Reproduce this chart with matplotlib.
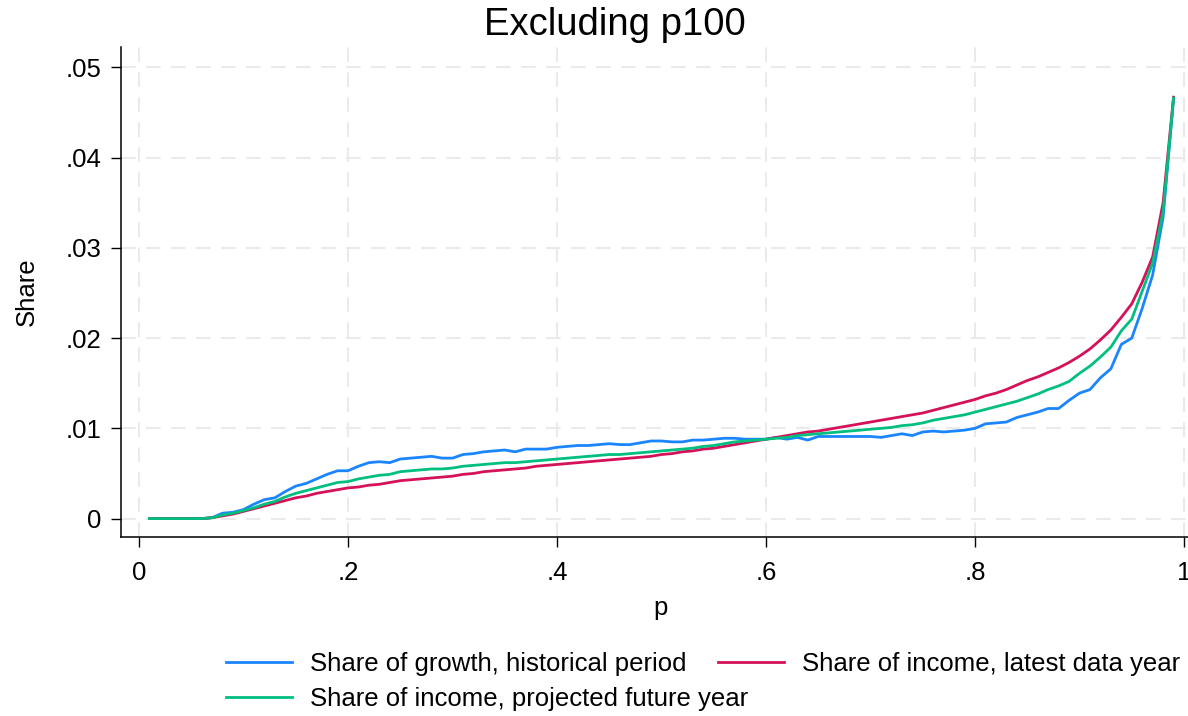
"""
Share of growth vs. share of income by percentile, top percentile dropped.
Writes out.png.
"""

import numpy as np
import matplotlib
matplotlib.use("Agg")
import matplotlib.pyplot as plt


# percentiles p1..p99 (p100 excluded)
pctile = np.arange(1, 100) / 100

share_growth_hist = [
    0, 0, 0, 0, 0, 0, 0.0001, 0.0006, 0.0007, 0.0010,
    0.0016, 0.0021, 0.0023, 0.0030, 0.0036, 0.0039, 0.0044, 0.0049, 0.0053, 0.0053,
    0.0058, 0.0062, 0.0063, 0.0062, 0.0066, 0.0067, 0.0068, 0.0069, 0.0067, 0.0067,
    0.0071, 0.0072, 0.0074, 0.0075, 0.0076, 0.0074, 0.0077, 0.0077, 0.0077, 0.0079,
    0.0080, 0.0081, 0.0081, 0.0082, 0.0083, 0.0082, 0.0082, 0.0084, 0.0086, 0.0086,
    0.0085, 0.0085, 0.0087, 0.0087, 0.0088, 0.0089, 0.0089, 0.0088, 0.0088, 0.0088,
    0.0090, 0.0088, 0.0090, 0.0087, 0.0091, 0.0091, 0.0091, 0.0091, 0.0091, 0.0091,
    0.0090, 0.0092, 0.0094, 0.0092, 0.0096, 0.0097, 0.0096, 0.0097, 0.0098, 0.0100,
    0.0105, 0.0106, 0.0107, 0.0112, 0.0115, 0.0118, 0.0122, 0.0122, 0.0131, 0.0139,
    0.0143, 0.0156, 0.0166, 0.0193, 0.0200, 0.0233, 0.0270, 0.0334, 0.0465,
]

share_income_latest = [
    0, 0, 0, 0, 0, 0, 0.0001, 0.0003, 0.0005, 0.0008,
    0.0011, 0.0014, 0.0017, 0.0020, 0.0023, 0.0025, 0.0028, 0.0030, 0.0032, 0.0034,
    0.0035, 0.0037, 0.0038, 0.0040, 0.0042, 0.0043, 0.0044, 0.0045, 0.0046, 0.0047,
    0.0049, 0.0050, 0.0052, 0.0053, 0.0054, 0.0055, 0.0056, 0.0058, 0.0059, 0.0060,
    0.0061, 0.0062, 0.0063, 0.0064, 0.0065, 0.0066, 0.0067, 0.0068, 0.0069, 0.0071,
    0.0072, 0.0074, 0.0075, 0.0077, 0.0078, 0.0080, 0.0082, 0.0084, 0.0086, 0.0088,
    0.0090, 0.0092, 0.0094, 0.0096, 0.0097, 0.0099, 0.0101, 0.0103, 0.0105, 0.0107,
    0.0109, 0.0111, 0.0113, 0.0115, 0.0117, 0.0120, 0.0123, 0.0126, 0.0129, 0.0132,
    0.0136, 0.0139, 0.0143, 0.0148, 0.0153, 0.0157, 0.0162, 0.0167, 0.0173, 0.0180,
    0.0188, 0.0198, 0.0209, 0.0223, 0.0238, 0.0262, 0.0290, 0.0350, 0.0467,
]

share_income_future = [
    0, 0, 0, 0, 0, 0, 0.0001, 0.0004, 0.0006, 0.0009,
    0.0012, 0.0016, 0.0019, 0.0024, 0.0028, 0.0031, 0.0034, 0.0037, 0.0040, 0.0041,
    0.0044, 0.0046, 0.0048, 0.0049, 0.0052, 0.0053, 0.0054, 0.0055, 0.0055, 0.0056,
    0.0058, 0.0059, 0.0060, 0.0061, 0.0062, 0.0062, 0.0063, 0.0064, 0.0065, 0.0066,
    0.0067, 0.0068, 0.0069, 0.0070, 0.0071, 0.0071, 0.0072, 0.0073, 0.0074, 0.0075,
    0.0076, 0.0077, 0.0078, 0.0080, 0.0081, 0.0083, 0.0085, 0.0086, 0.0087, 0.0088,
    0.0089, 0.0090, 0.0092, 0.0093, 0.0094, 0.0095, 0.0096, 0.0097, 0.0098, 0.0099,
    0.0100, 0.0101, 0.0103, 0.0104, 0.0106, 0.0109, 0.0111, 0.0113, 0.0115, 0.0118,
    0.0121, 0.0124, 0.0127, 0.0130, 0.0134, 0.0138, 0.0143, 0.0147, 0.0152, 0.0161,
    0.0169, 0.0179, 0.0190, 0.0208, 0.0221, 0.0252, 0.0283, 0.0340, 0.0466,
]

x_ticks = [0, 0.2, 0.4, 0.6, 0.8, 1.0]
x_tick_labels = ["0", ".2", ".4", ".6", ".8", "1"]
y_ticks = [0, 0.01, 0.02, 0.03, 0.04, 0.05]
y_tick_labels = ["0", ".01", ".02", ".03", ".04", ".05"]

BLUE = "#1a85ff"
RED = "#d41159"
GREEN = "#00bf7f"
GRID = "#eaeaea"

plt.rcParams["font.family"] = ["Liberation Sans", "DejaVu Sans"]

W, H = 1188, 716
fig = plt.figure(figsize=(W / 100, H / 100), dpi=100)
ax = fig.add_axes([121 / W, 1 - 537 / H, (W - 121) / W, (537 - 47) / H])

l_hist, = ax.plot(pctile, share_growth_hist, color=BLUE, lw=2.0, solid_joinstyle="round")
l_latest, = ax.plot(pctile, share_income_latest, color=RED, lw=2.0, solid_joinstyle="round")
l_future, = ax.plot(pctile, share_income_future, color=GREEN, lw=2.0, solid_joinstyle="round")

# plot region padded a little beyond the data range, like Stata does
ax.set_xlim(-18 / 1045, (W - 139) / 1045)
ax.set_ylim(-0.00204, 0.05226)

ax.set_xticks(x_ticks)
ax.set_xticklabels(x_tick_labels)
ax.set_yticks(y_ticks)
ax.set_yticklabels(y_tick_labels)
ax.tick_params(axis="both", direction="out", length=7, width=1, labelsize=18.5,
               colors="black")
ax.tick_params(axis="x", pad=10)
ax.tick_params(axis="y", pad=7)

ax.grid(True, color=GRID, lw=1.5, linestyle=(0, (7, 5)))
ax.set_axisbelow(True)
for side in ("top", "right"):
    ax.spines[side].set_visible(False)
for side in ("left", "bottom"):
    ax.spines[side].set_linewidth(1.1)

ax.set_xlabel("p", fontsize=18.5)
ax.xaxis.set_label_coords((661 - 121) / (W - 121), -(608 - 537) / (537 - 47), transform=ax.transAxes)
ax.set_ylabel("Share", fontsize=18.5)
ax.yaxis.set_label_coords(-(121 - 27) / (W - 121), 0.5, transform=ax.transAxes)
ax.xaxis.label.set_va("center")
ax.yaxis.label.set_va("center")

fig.text(615 / W, 1 - 25 / H, "Excluding p100", ha="center", va="center", fontsize=27.5)

# Stata-style legend: rows are laid out independently, so build each row separately
legend_style = dict(
    loc="upper left",
    frameon=False,
    fontsize=18.5,
    borderpad=0,
    borderaxespad=0,
    handlelength=2.55,
    handletextpad=0.7,
    columnspacing=1.25,
)
fig.legend(
    [l_hist, l_latest],
    ["Share of growth, historical period", "Share of income, latest data year"],
    ncol=2,
    bbox_to_anchor=(226 / W, 1 - 652 / H),
    **legend_style,
)
fig.legend(
    [l_future],
    ["Share of income, projected future year"],
    ncol=1,
    bbox_to_anchor=(226 / W, 1 - 687 / H),
    **legend_style,
)

fig.savefig("out.png", dpi=100)
